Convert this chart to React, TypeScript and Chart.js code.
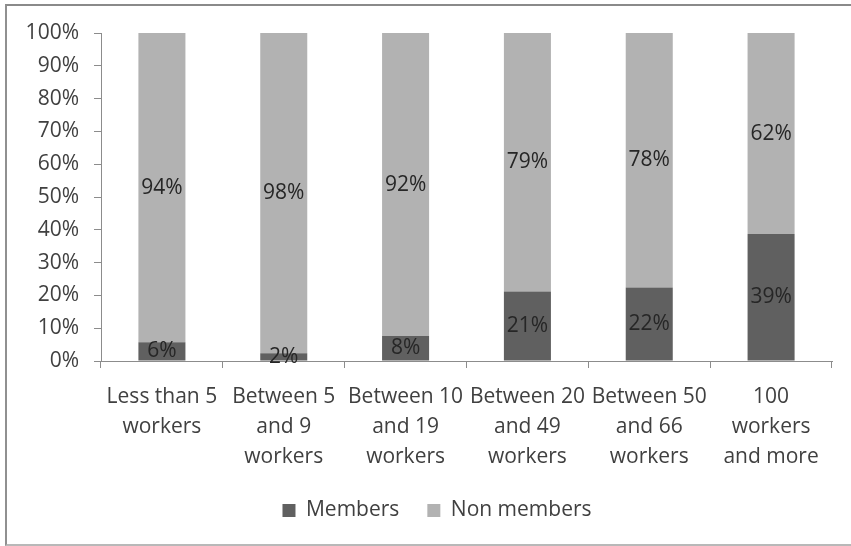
import React, { useEffect, useRef } from "react";
import { Chart, registerables } from "chart.js";

Chart.register(...registerables);

const categories: string[][] = [
  ["Less than 5", "workers"],
  ["Between 5", "and 9", "workers"],
  ["Between 10", "and 19", "workers"],
  ["Between 20", "and 49", "workers"],
  ["Between 50", "and 66", "workers"],
  ["100", "workers", "and more"],
];
const members = [5.7, 2.4, 7.6, 21.2, 22.4, 38.7];
const nonMembers = [94.3, 97.6, 92.4, 78.8, 77.6, 61.3];
const memberLabels = ["6%", "2%", "8%", "21%", "22%", "39%"];
const nonMemberLabels = ["94%", "98%", "92%", "79%", "78%", "62%"];
const seriesNames = ["Members", "Non members"];

const FONT = '"Open Sans", "Liberation Sans", sans-serif';
const SIZE = 21;
const TEXT = "#404040";
const AXIS = "#8c8c8c";

const segLabels = {
  id: "segLabels",
  afterDatasetsDraw(chart: any) {
    const ctx = chart.ctx;
    const sets = [memberLabels, nonMemberLabels];
    ctx.save();
    ctx.font = `${SIZE}px ${FONT}`;
    ctx.fillStyle = "#262626";
    ctx.textAlign = "center";
    ctx.textBaseline = "middle";
    chart.data.datasets.forEach((_ds: any, i: number) => {
      const meta = chart.getDatasetMeta(i);
      meta.data.forEach((el: any, j: number) => {
        const p = el.getProps(["x", "y", "base"], true);
        const top = Math.max(Math.min(p.y, p.base), chart.chartArea.top);
        const bottom = Math.max(p.y, p.base);
        ctx.fillText(sets[i][j], p.x, (top + bottom) / 2);
      });
    });
    ctx.restore();
  },
};

// centre the legend where the reference has it
const legendShift = {
  id: "legendShift",
  afterLayout(chart: any) {
    const l = chart.legend;
    if (!l) return;
    const d = 437 - (l.left + l.right) / 2;
    l.left += d;
    l.right += d;
  },
};

export default function App() {
  const ref = useRef<HTMLCanvasElement>(null);
  useEffect(() => {
    if (!ref.current) return;
    const chart = new Chart(ref.current, {
      type: "bar",
      data: {
        labels: categories as any,
        datasets: [
          {
            label: seriesNames[0],
            data: members,
            backgroundColor: "#606060",
            borderWidth: 0,
            barPercentage: 0.386,
            categoryPercentage: 1,
          },
          {
            label: seriesNames[1],
            data: nonMembers,
            backgroundColor: "#b2b2b2",
            borderWidth: 0,
            barPercentage: 0.386,
            categoryPercentage: 1,
          },
        ],
      },
      options: {
        animation: false,
        responsive: false,
        maintainAspectRatio: false,
        layout: { padding: { left: 12, right: 19, top: 33, bottom: 15 } },
        plugins: {
          tooltip: { enabled: false },
          legend: {
            position: "bottom",
            labels: {
              boxWidth: 13,
              boxHeight: 13,
              padding: 28,
              color: TEXT,
              font: { family: FONT, size: SIZE },
            },
          },
        },
        scales: {
          x: {
            stacked: true,
            afterFit: (s: any) => {
              s.height = 111;
            },
            grid: {
              display: true,
              drawOnChartArea: false,
              drawTicks: true,
              tickLength: 7,
              color: AXIS,
              offset: true,
            },
            border: { display: true, color: AXIS },
            ticks: {
              autoSkip: false,
              maxRotation: 0,
              minRotation: 0,
              padding: 14,
              color: TEXT,
              font: { family: FONT, size: SIZE, lineHeight: "30px" },
            },
          },
          y: {
            stacked: true,
            min: 0,
            max: 100,
            afterFit: (s: any) => {
              s.width = 89;
            },
            grid: {
              display: true,
              drawOnChartArea: false,
              drawTicks: true,
              tickLength: 7,
              color: AXIS,
            },
            border: { display: true, color: AXIS },
            ticks: {
              stepSize: 10,
              padding: 15,
              color: TEXT,
              font: { family: FONT, size: SIZE },
              callback: (v: any) => `${v}%`,
            },
          },
        },
      },
      plugins: [segLabels, legendShift],
    });
    return () => chart.destroy();
  }, []);

  return (
    <div
      style={{
        position: "fixed",
        left: 0,
        top: 0,
        width: 851,
        height: 546,
        overflow: "hidden",
        background: "#fff",
      }}
    >
      <div
        style={{
          position: "absolute",
          left: 5,
          top: 4,
          width: 900,
          height: 542,
          boxSizing: "border-box",
          borderTop: "2px solid #8a8a8a",
          borderLeft: "2px solid #909090",
          borderBottom: "2px solid #b8b8b8",
        }}
      />
      <canvas
        ref={ref}
        width={851}
        height={546}
        style={{ position: "absolute", left: 0, top: 0, width: 851, height: 546 }}
      />
    </div>
  );
}
